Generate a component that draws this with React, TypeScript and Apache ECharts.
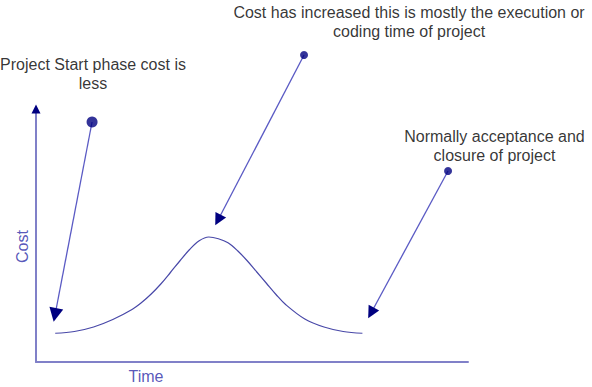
import React, { useEffect, useRef } from "react";
import * as echarts from "echarts";

// Bell-shaped cost curve over time
const timePoints = [1, 2, 3, 4, 5, 5.5, 6, 6.5, 7, 7.5, 8, 8.5, 9, 9.5, 10, 10.5, 11, 11.5, 12, 12.5, 13, 14, 15, 16, 17];
const costPoints = [1.15, 1.22, 1.4, 1.7, 2.1, 2.38, 2.72, 3.12, 3.58, 4.05, 4.5, 4.85, 5.0, 4.93, 4.77, 4.45, 4.05, 3.6, 3.15, 2.7, 2.3, 1.72, 1.4, 1.22, 1.15];

// Annotations
const noteTexts = [
  "Project Start phase cost is\nless",
  "Cost has increased this is mostly the execution or\ncoding time of project",
  "Normally acceptance and\nclosure of project",
];
const noteTextTime = [2.97, 19.43, 23.88];
const noteTextCost = [11.54, 13.59, 8.63];
const noteDotTime = [2.92, 13.96, 21.46];
const noteDotCost = [9.6, 12.28, 7.64];
const noteTipTime = [0.99, 9.48, 17.45];
const noteTipCost = [1.88, 5.68, 1.96];

// Axis names
const axisNames = ["Time", "Cost"];
const axisNameTime = [5.73, -0.7];
const axisNameCost = [-0.56, 4.62];
const axisNameRotate = [0, 90];

const X_MAX = 22.5;
const Y_MAX = 10.12;

const dotSizes = [11, 8, 8];
const headSizes: [number, number][] = [[13, 14], [10, 12], [10, 12]];

export default function App() {
  const ref = useRef<HTMLDivElement>(null);
  useEffect(() => {
    if (!ref.current) return;
    const chart = echarts.init(ref.current, undefined, { renderer: "svg" });
    const font = "'Liberation Sans', Arial, sans-serif";
    const headSeries = noteTexts.map((_, i) => ({
      type: "lines",
      coordinateSystem: "cartesian2d",
      clip: false,
      z: 5,
      symbol: ["none", "triangle"],
      symbolSize: headSizes[i],
      lineStyle: { color: "#000080", width: 0, opacity: 1 },
      data: [
        {
          coords: [
            [noteDotTime[i], noteDotCost[i]],
            [noteTipTime[i], noteTipCost[i]],
          ],
        },
      ],
    }));
    chart.setOption({
      animation: false,
      grid: { left: 36, top: 109, right: 124, bottom: 25 },
      xAxis: {
        type: "value",
        min: 0,
        max: X_MAX,
        axisLine: { show: true, lineStyle: { color: "#8080c8", width: 2 } },
        axisTick: { show: false },
        axisLabel: { show: false },
        splitLine: { show: false },
      },
      yAxis: {
        type: "value",
        min: 0,
        max: Y_MAX,
        axisLine: { show: true, lineStyle: { color: "#8080c8", width: 2 } },
        axisTick: { show: false },
        axisLabel: { show: false },
        splitLine: { show: false },
      },
      series: [
        {
          type: "line",
          data: timePoints.map((t, i) => [t, costPoints[i]]),
          smooth: 0.35,
          symbol: "none",
          lineStyle: { color: "#4848a8", width: 1.2 },
          z: 3,
        },
        {
          type: "lines",
          coordinateSystem: "cartesian2d",
          clip: false,
          z: 4,
          symbol: ["none", "none"],
          lineStyle: { color: "#5a5ac4", width: 1.3, opacity: 1 },
          data: noteTexts.map((_, i) => ({
            coords: [
              [noteDotTime[i], noteDotCost[i]],
              [noteTipTime[i], noteTipCost[i]],
            ],
          })),
        },
        ...headSeries,
        {
          type: "lines",
          coordinateSystem: "cartesian2d",
          clip: false,
          z: 5,
          symbol: ["none", "triangle"],
          symbolSize: [7, 9],
          lineStyle: { color: "#000080", width: 0, opacity: 1 },
          data: [{ coords: [[0, 0], [0, Y_MAX]] }],
        },
        {
          type: "scatter",
          clip: false,
          z: 6,
          itemStyle: { color: "#000080" },
          data: noteDotTime.map((t, i) => ({ value: [t, noteDotCost[i]], symbolSize: dotSizes[i] })),
        },
        {
          type: "scatter",
          clip: false,
          z: 7,
          symbolSize: 1,
          itemStyle: { color: "rgba(0,0,0,0)" },
          label: {
            show: true,
            position: "inside",
            formatter: (p: any) => p.name,
            color: "#000000",
            fontSize: 16,
            lineHeight: 19,
            fontFamily: font,
            align: "center",
          },
          data: noteTexts.map((txt, i) => ({ name: txt, value: [noteTextTime[i], noteTextCost[i]] })),
        },
        {
          type: "scatter",
          clip: false,
          z: 7,
          symbolSize: 1,
          itemStyle: { color: "rgba(0,0,0,0)" },
          label: {
            show: true,
            position: "inside",
            formatter: (p: any) => p.name,
            color: "#2c2ca8",
            fontSize: 16,
            fontFamily: font,
          },
          data: axisNames.map((txt, i) => ({
            name: txt,
            value: [axisNameTime[i], axisNameCost[i]],
            label: { rotate: axisNameRotate[i] },
          })),
        },
      ],
    });
    return () => chart.dispose();
  }, []);
  return (
    <div
      ref={ref}
      style={{ position: "fixed", left: 0, top: 0, width: 592, height: 387, background: "#ffffff" }}
    />
  );
}
